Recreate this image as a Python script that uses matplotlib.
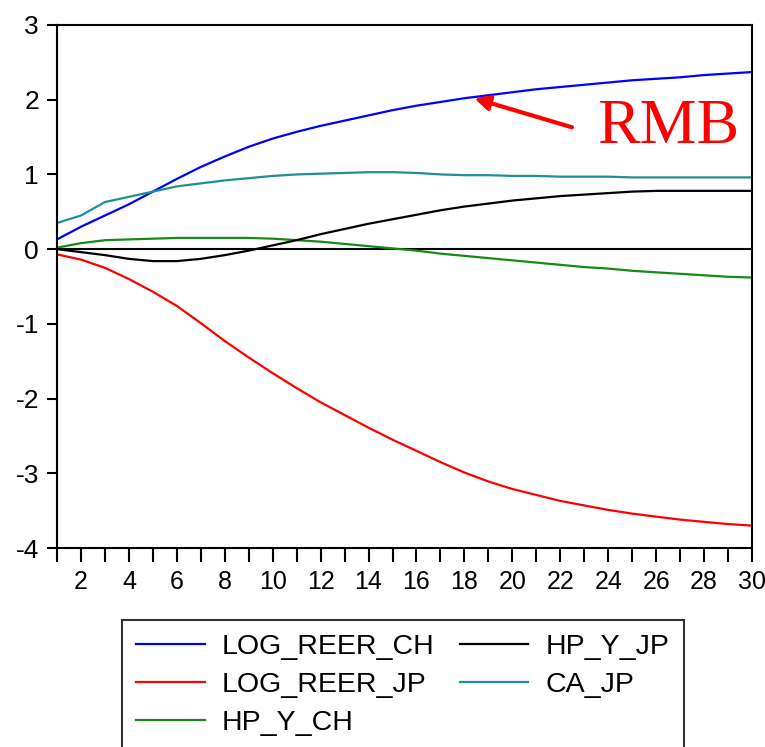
import numpy as np
import matplotlib
matplotlib.use("Agg")
import matplotlib.pyplot as plt
from matplotlib.ticker import MultipleLocator, FuncFormatter

plt.rcParams['font.family'] = ['Liberation Sans', 'DejaVu Sans']
plt.rcParams['axes.unicode_minus'] = False

periods = np.arange(1, 31)

log_reer_ch = [0.13, 0.30, 0.45, 0.60, 0.77, 0.94, 1.10, 1.24, 1.37, 1.48,
               1.57, 1.65, 1.72, 1.79, 1.86, 1.92, 1.97, 2.02, 2.06, 2.10,
               2.14, 2.17, 2.20, 2.23, 2.26, 2.28, 2.30, 2.33, 2.35, 2.37]
log_reer_jp = [-0.07, -0.14, -0.25, -0.40, -0.57, -0.76, -0.99, -1.23, -1.45, -1.66,
               -1.86, -2.05, -2.22, -2.39, -2.55, -2.70, -2.85, -2.99, -3.11, -3.21,
               -3.29, -3.37, -3.43, -3.49, -3.54, -3.58, -3.62, -3.65, -3.68, -3.70]
hp_y_ch = [0.02, 0.08, 0.12, 0.13, 0.14, 0.15, 0.15, 0.15, 0.15, 0.14,
           0.12, 0.10, 0.07, 0.04, 0.01, -0.02, -0.06, -0.09, -0.12, -0.15,
           -0.18, -0.21, -0.24, -0.26, -0.29, -0.31, -0.33, -0.35, -0.37, -0.38]
hp_y_jp = [0.00, -0.04, -0.08, -0.13, -0.16, -0.16, -0.13, -0.08, -0.02, 0.05,
           0.12, 0.20, 0.27, 0.34, 0.40, 0.46, 0.52, 0.57, 0.61, 0.65,
           0.68, 0.71, 0.73, 0.75, 0.77, 0.78, 0.78, 0.78, 0.78, 0.78]
ca_jp = [0.35, 0.45, 0.63, 0.70, 0.77, 0.84, 0.88, 0.92, 0.95, 0.98,
         1.00, 1.01, 1.02, 1.03, 1.03, 1.02, 1.00, 0.99, 0.99, 0.98,
         0.98, 0.97, 0.97, 0.97, 0.96, 0.96, 0.96, 0.96, 0.96, 0.96]

series = [
    ("LOG_REER_CH", log_reer_ch, "#0000ff"),
    ("LOG_REER_JP", log_reer_jp, "#ff0000"),
    ("HP_Y_CH", hp_y_ch, "#158a15"),
    ("HP_Y_JP", hp_y_jp, "#000000"),
    ("CA_JP", ca_jp, "#1f8f8f"),
]

fig = plt.figure(figsize=(7.65, 7.47), dpi=100)
ax = fig.add_axes([57 / 765, 1 - 548 / 747, 695 / 765, 523 / 747])

ax.axhline(0, color="black", lw=1.5, zorder=1)
for name, vals, col in series:
    ax.plot(periods, vals, color=col, lw=1.6, label=name, zorder=2)

ax.set_xlim(1, 30)
ax.set_ylim(-4, 3)
ax.xaxis.set_major_locator(MultipleLocator(1))
ax.xaxis.set_major_formatter(FuncFormatter(lambda v, p: "%d" % v if int(v) % 2 == 0 else ""))
ax.yaxis.set_major_locator(MultipleLocator(1))
ax.tick_params(axis="x", direction="out", length=10, width=1.5, labelsize=18, pad=6)
ax.tick_params(axis="y", direction="out", length=7, width=1.5, labelsize=19, pad=6)
for sp in ax.spines.values():
    sp.set_linewidth(1.5)

# RMB label
ax.annotate("", xy=(18.3, 2.03), xytext=(22.6, 1.62),
            arrowprops=dict(arrowstyle="-|>", color="#ff0000", lw=3, mutation_scale=22))
ax.text(23.55, 1.62, "RMB", color="#ff0000", fontsize=46,
        family=["Liberation Serif", "DejaVu Serif"], ha="left", va="center")

leg = fig.legend(loc="upper left", bbox_to_anchor=(122 / 765, 1 - 620 / 747),
                 ncol=2, fontsize=20.5, frameon=True, fancybox=False,
                 edgecolor="black", borderaxespad=0, handlelength=2.4,
                 handletextpad=0.6, columnspacing=0.9, labelspacing=0.42,
                 borderpad=0.5)
leg.get_frame().set_linewidth(1.5)

fig.savefig("out.png", dpi=100, facecolor="white")
